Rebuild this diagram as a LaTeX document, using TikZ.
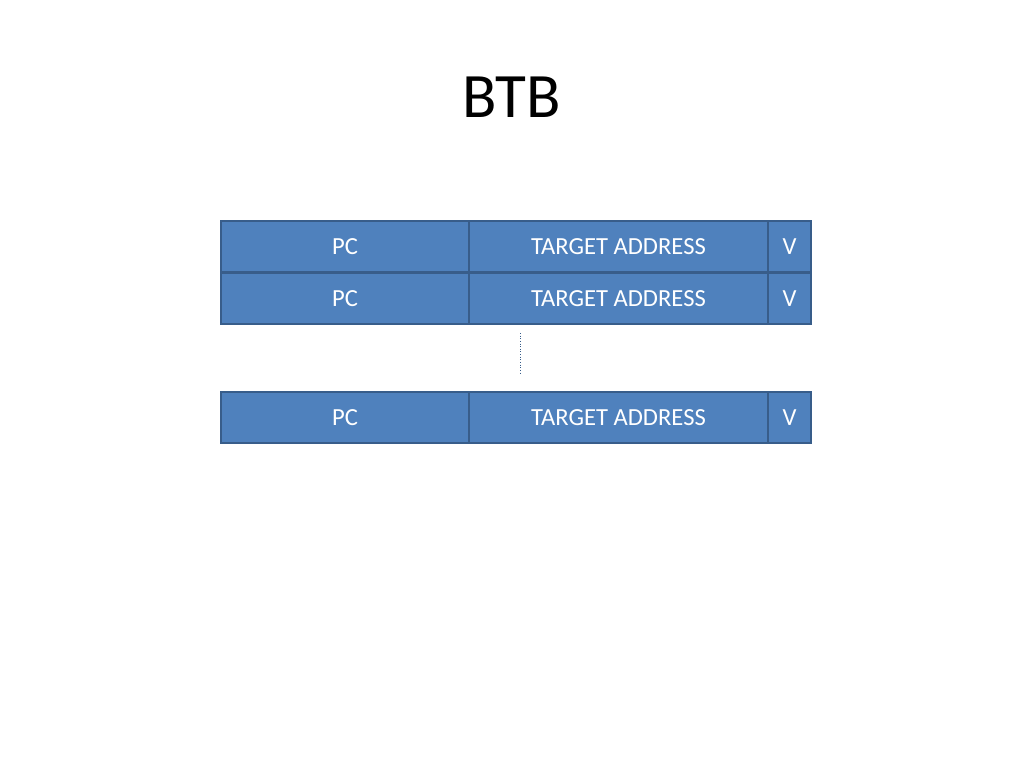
\documentclass[tikz,border=0pt]{standalone}
\usepackage{fontspec}
\setmainfont{Carlito}
\definecolor{cellfill}{HTML}{4F81BD}
\definecolor{celledge}{HTML}{385D8A}
\tikzset{cell/.style={draw=celledge, line width=1.2pt, fill=cellfill, text=white, font=\fontsize{14}{16}\selectfont}}
\begin{document}
\begin{tikzpicture}[x=0.02cm, y=-0.02cm]
    \useasboundingbox (0,0) rectangle (1024,768);
    \node (title) at (512,97) {\fontsize{36}{40}\selectfont BTB};

    \draw[cell] (221,221) rectangle (469,272) node[midway] (pc1) {PC};
    \draw[cell] (469,221) rectangle (768,272) node[midway] (ta1) {TARGET ADDRESS};
    \draw[cell] (768,221) rectangle (811,272) node[midway] (v1) {V};

    \draw[cell] (221,273) rectangle (469,324) node[midway] (pc2) {PC};
    \draw[cell] (469,273) rectangle (768,324) node[midway] (ta2) {TARGET ADDRESS};
    \draw[cell] (768,273) rectangle (811,324) node[midway] (v2) {V};

    \draw[cell] (221,392) rectangle (469,443) node[midway] (pc3) {PC};
    \draw[cell] (469,392) rectangle (768,443) node[midway] (ta3) {TARGET ADDRESS};
    \draw[cell] (768,392) rectangle (811,443) node[midway] (v3) {V};

    \coordinate (gaptop) at (520,333);
    \coordinate (gapbot) at (520,375);
    \draw[celledge, densely dotted, line width=0.5pt] (gaptop) -- (gapbot);
\end{tikzpicture}
\end{document}
